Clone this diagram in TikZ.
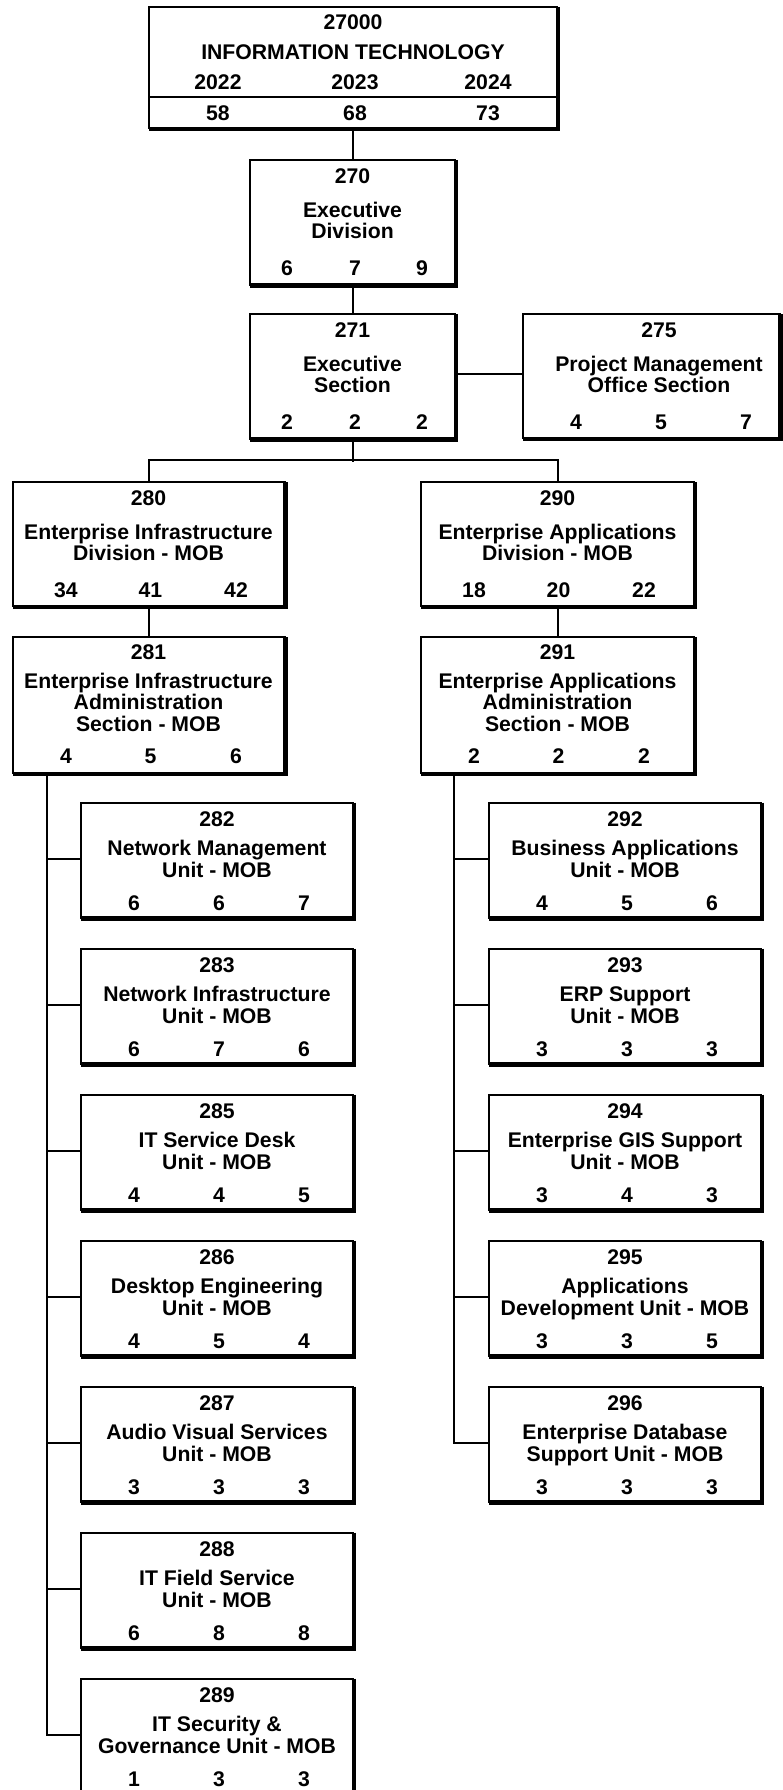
\documentclass[tikz,border=0pt]{standalone}
\usepackage{fontspec}
\setmainfont{Liberation Sans}
\tikzset{
  orgbox/.style={draw, line width=2pt, inner sep=0pt, outer sep=0pt, fill=white},
  shadeedge/.style={line width=4.5pt},
  conn/.style={line width=2pt, line cap=rect},
  txt/.style={inner sep=0pt, outer sep=0pt, anchor=base, font=\fontsize{21.2}{21}\selectfont\bfseries},
}
% box from (x1,y1) to (x2,y2), y measured downwards
\newcommand\mkbox[5]{%
  \node[orgbox, minimum width={#4-#2}, minimum height={#5-#3}] (#1) at ({(#2+#4)/2},{(#3+#5)/2}) {};
  \draw[shadeedge] ([xshift=1.2pt]#1.north east) -- ([xshift=1.2pt,yshift=-1.2pt]#1.south east) -- ([yshift=-1.2pt]#1.south west);
}
\newcommand\tx[4]{\node[txt] (#1) at (#2,#3) {#4};}
% unit box: name, x1, top, id, line1, line2, n1, n2, n3
\newcommand\unitbox[9]{%
  \pgfmathsetmacro\ux{#2+272}\pgfmathsetmacro\uy{#3+115}%
  \mkbox{#1}{#2}{#3}{\ux}{\uy}%
  \pgfmathsetmacro\ucx{#2+136}%
  \pgfmathsetmacro\ya{#3+23.5}\pgfmathsetmacro\yb{#3+53}%
  \pgfmathsetmacro\yc{#3+74.5}\pgfmathsetmacro\yd{#3+107.5}%
  \tx{#1-id}{\ucx}{\ya}{#4}%
  \tx{#1-l1}{\ucx}{\yb}{#5}%
  \tx{#1-l2}{\ucx}{\yc}{#6}%
  \tx{#1-a}{\ucx-83}{\yd}{#7}%
  \tx{#1-b}{\ucx+2}{\yd}{#8}%
  \tx{#1-c}{\ucx+87}{\yd}{#9}%
}
\begin{document}
\begin{tikzpicture}[x=1pt, y=-1pt]
\useasboundingbox (0,0) rectangle (783,1790);

% ---------- top box ----------
\mkbox{it}{149}{7}{557}{128}
\coordinate (sepL) at (149,97);
\coordinate (sepR) at (557,97);
\draw[line width=2pt] (sepL) -- (sepR);
\tx{it-id}{353}{29.5}{27000}
\tx{it-name}{353}{59.5}{INFORMATION TECHNOLOGY}
\tx{it-y1}{218}{89.5}{2022}
\tx{it-y2}{355}{89.5}{2023}
\tx{it-y3}{488}{89.5}{2024}
\tx{it-v1}{218}{120.7}{58}
\tx{it-v2}{355}{120.7}{68}
\tx{it-v3}{488}{120.7}{73}

% ---------- 270 ----------
\mkbox{e270}{250}{160}{455}{284.5}
\tx{e270-id}{352.5}{183.5}{270}
\tx{e270-l1}{352.5}{217.5}{Executive}
\tx{e270-l2}{352.5}{238}{Division}
\tx{e270-a}{287}{275}{6}
\tx{e270-b}{355}{275}{7}
\tx{e270-c}{422}{275}{9}

% ---------- 271 ----------
\mkbox{e271}{250}{314}{455}{438.5}
\tx{e271-id}{352.5}{337.5}{271}
\tx{e271-l1}{352.5}{371.5}{Executive}
\tx{e271-l2}{352.5}{392}{Section}
\tx{e271-a}{287}{429}{2}
\tx{e271-b}{355}{429}{2}
\tx{e271-c}{422}{429}{2}

% ---------- 275 ----------
\mkbox{e275}{523}{314}{779.5}{438}
\tx{e275-id}{659}{337.5}{275}
\tx{e275-l1}{659}{371.5}{Project Management}
\tx{e275-l2}{659}{392}{Office Section}
\tx{e275-a}{576}{429}{4}
\tx{e275-b}{661}{429}{5}
\tx{e275-c}{746}{429}{7}

% ---------- 280 ----------
\mkbox{e280}{12.5}{482}{284.5}{606}
\tx{e280-id}{148.5}{505}{280}
\tx{e280-l1}{148.5}{539.5}{Enterprise Infrastructure}
\tx{e280-l2}{148.5}{560}{Division - MOB}
\tx{e280-a}{66}{597.5}{34}
\tx{e280-b}{150.5}{597.5}{41}
\tx{e280-c}{236}{597.5}{42}

% ---------- 290 ----------
\mkbox{e290}{421}{482}{694}{606}
\tx{e290-id}{557.5}{505}{290}
\tx{e290-l1}{557.5}{539.5}{Enterprise Applications}
\tx{e290-l2}{557.5}{560}{Division - MOB}
\tx{e290-a}{474}{597.5}{18}
\tx{e290-b}{558.5}{597.5}{20}
\tx{e290-c}{644}{597.5}{22}

% ---------- 281 ----------
\mkbox{e281}{12.5}{637}{284.5}{773}
\tx{e281-id}{148.5}{659.5}{281}
\tx{e281-l1}{148.5}{688}{Enterprise Infrastructure}
\tx{e281-l2}{148.5}{709.5}{Administration}
\tx{e281-l3}{148.5}{731}{Section - MOB}
\tx{e281-a}{66}{763.5}{4}
\tx{e281-b}{150.5}{763.5}{5}
\tx{e281-c}{236}{763.5}{6}

% ---------- 291 ----------
\mkbox{e291}{421}{637}{694}{773}
\tx{e291-id}{557.5}{659.5}{291}
\tx{e291-l1}{557.5}{688}{Enterprise Applications}
\tx{e291-l2}{557.5}{709.5}{Administration}
\tx{e291-l3}{557.5}{731}{Section - MOB}
\tx{e291-a}{474}{763.5}{2}
\tx{e291-b}{558.5}{763.5}{2}
\tx{e291-c}{644}{763.5}{2}

% ---------- left units ----------
\unitbox{u282}{81}{802.5}{282}{Network Management}{Unit - MOB}{6}{6}{7}
\unitbox{u283}{81}{948.5}{283}{Network Infrastructure}{Unit - MOB}{6}{7}{6}
\unitbox{u285}{81}{1094.5}{285}{IT Service Desk}{Unit - MOB}{4}{4}{5}
\unitbox{u286}{81}{1240.5}{286}{Desktop Engineering}{Unit - MOB}{4}{5}{4}
\unitbox{u287}{81}{1386.5}{287}{Audio Visual Services}{Unit - MOB}{3}{3}{3}
\unitbox{u288}{81}{1532.5}{288}{IT Field Service}{Unit - MOB}{6}{8}{8}
\unitbox{u289}{81}{1678.5}{289}{IT Security \&}{Governance Unit - MOB}{1}{3}{3}

% ---------- right units ----------
\unitbox{u292}{489}{802.5}{292}{Business Applications}{Unit - MOB}{4}{5}{6}
\unitbox{u293}{489}{948.5}{293}{ERP Support}{Unit - MOB}{3}{3}{3}
\unitbox{u294}{489}{1094.5}{294}{Enterprise GIS Support}{Unit - MOB}{3}{4}{3}
\unitbox{u295}{489}{1240.5}{295}{Applications}{Development Unit - MOB}{3}{3}{5}
\unitbox{u296}{489}{1386.5}{296}{Enterprise Database}{Support Unit - MOB}{3}{3}{3}

% ---------- connectors ----------
\draw[conn] (it.south) -- (it.south |- e270.north);
\draw[conn] (e270.south) -- (e271.north);
\draw[conn] ([yshift=2pt]e271.east) -- ([yshift=2pt]e271.east -| e275.west);
\coordinate (fork) at ([yshift=-22pt]e271.south);
\draw[conn] (e271.south) -- (fork);
\draw[conn] (e280.north) -- ++(0,-22) -| (e290.north);
\draw[conn] (e280.south) -- (e281.north);
\draw[conn] (e290.south) -- (e291.north);

\coordinate (lt) at ([xshift=34pt]e281.south west);
\draw[conn] (lt) -- ([yshift=1.5pt]u289.west -| lt);
\foreach \u in {u282,u283,u285,u286,u287,u288,u289}
  \draw[conn] ([yshift=1.5pt]\u.west) -- ([yshift=1.5pt]\u.west -| lt);

\coordinate (rt) at ([xshift=33.4pt]e291.south west);
\draw[conn] (rt) -- ([yshift=1.5pt]u296.west -| rt);
\foreach \u in {u292,u293,u294,u295,u296}
  \draw[conn] ([yshift=1.5pt]\u.west) -- ([yshift=1.5pt]\u.west -| rt);
\end{tikzpicture}
\end{document}
